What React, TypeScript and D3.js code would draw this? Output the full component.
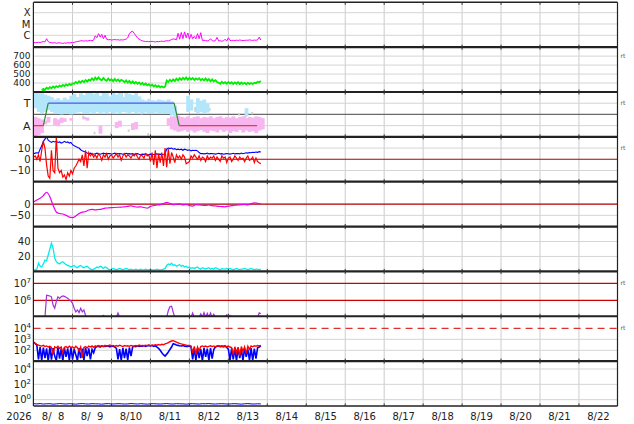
import React from 'react';
import * as d3 from 'd3';

// ---------------- data (hours counted from 2026-08-08 00:00 UTC) ----------------
const T0 = Date.UTC(2026, 7, 8);
const HOUR = 3600e3;
const yearLabel = '2026';
const dayLabels = ['8/\u20078', '8/\u20079', '8/10', '8/11', '8/12', '8/13', '8/14', '8/15', '8/16', '8/17', '8/18', '8/19', '8/20', '8/21', '8/22'];

// X-ray flux, hourly from h0, units of 1e-7 W/m2 (C = 10, M = 100, X = 1000)
const xrayB = [
  2.3, 2.2, 2.3, 2.4, 2.3, 2.5, 2.8, 2.6, 5.0, 2.8,
  2.3, 2.2, 2.1, 2.2, 2.0, 2.1, 2.2, 2.0, 1.9, 2.1,
  2.0, 2.2, 2.1, 2.3, 2.2, 2.4, 2.6, 2.8, 3.0, 3.2,
  3.4, 3.0, 3.3, 3.1, 3.4, 3.6, 3.3, 3.8, 9, 6,
  14, 7, 12, 5, 10, 4.5, 4.0, 4.2, 3.8, 4.0,
  4.3, 3.9, 4.1, 3.7, 4.0, 3.8, 4.2, 4.5, 6, 14,
  20, 23, 15, 9, 6, 4.5, 3.8, 3.2, 3.0, 2.8,
  2.9, 2.7, 2.8, 2.9, 2.7, 2.6, 2.8, 2.7, 2.9, 3.0,
  2.8, 3.1, 3.3, 3.2, 3.6, 4.2, 4.8, 4.5, 4.0, 15,
  4.5, 18, 5, 20, 6, 16, 4.5, 12, 5, 8,
  4.8, 14, 5, 17, 3.5, 3.6, 3.4, 3.2, 3.5, 5,
  3.3, 3.1, 3.4, 6.5, 3.2, 3.3, 3.0, 3.2, 4.5, 3.1,
  6, 3.4, 3.5, 3.6, 3.4, 3.7, 3.5, 3.8, 3.6, 3.4,
  3.5, 3.7, 3.6, 3.9, 3.7, 3.5, 3.8, 3.6, 4.0, 7,
  3.8,
];

// solar wind speed km/s, hourly from h5
const speedStart = 5;
const speed = [
  318, 335, 325, 348, 336, 355, 342, 362, 348, 366,
  354, 372, 360, 378, 366, 384, 372, 390, 378, 396,
  392, 412, 398, 420, 404, 426, 410, 432, 416, 438,
  428, 452, 432, 460, 438, 462, 442, 430, 456, 436,
  424, 450, 428, 442, 420, 446, 424, 440, 418, 436,
  426, 410, 430, 404, 424, 400, 418, 396, 412, 392,
  406, 386, 400, 380, 394, 374, 388, 368, 382, 362,
  376, 356, 370, 352, 364, 350, 360, 428, 412, 436,
  418, 440, 422, 448, 430, 454, 436, 458, 440, 462,
  436, 458, 440, 456, 434, 452, 438, 454, 432, 446,
  428, 450, 426, 444, 420, 440, 418, 432, 412, 404,
  392, 414, 396, 410, 392, 412, 394, 408, 390, 406,
  392, 410, 388, 406, 390, 402, 386, 404, 388, 400,
  390, 404, 398, 414, 406, 424,
];

// IMF sector: angle (deg) bins of 2 h from h0
const sectorHours = [0, 6, 9, 86.6, 89.7, 137.7];
const sectorPhi = [90, 90, 270, 270, 90, 90];
const towardHi = [
  360, 360, 350, 340, 330, 320, 300, 310, 295, 315,
  300, 330, 345, 320, 350, 335, 360, 355, 345, 360,
  330, 360, 350, 325, 360, 340, 355, 320, 360, 345,
  335, 355, 325, 300, 290, 305, 295, 290, 300, 295,
  290, 300, 285, 250, null, null, null, 330, 300, null,
  310, 290, 300, 270, null, null, null, null, null, null,
  null, null, null, null, null, 230, null, null, null, null, null,
];
const towardLo = [
  230, 200, 190, 200, 215, 200, 185, 190, 180, 190,
  185, 180, 190, 195, 200, 185, 190, 195, 185, 200,
  190, 195, 185, 200, 190, 195, 185, 200, 195, 190,
  200, 190, 195, 190, 195, 185, 190, 195, 185, 190,
  185, 190, 175, 150, null, null, null, 200, 210, null,
  190, 200, 185, 195, null, null, null, null, null, null,
  null, null, null, null, null, 165, null, null, null, null, null,
];
const awayHi = [
  160, 150, 140, 130, 160, null, 150, 140, 155, 150,
  null, 150, null, null, null, 160, 155, null, null, null,
  90, null, null, null, null, 120, 130, null, null, null,
  110, 120, null, null, null, null, null, null, null, null,
  null, 150, 165, 160, 170, 160, 155, 165, 150, 160,
  165, 150, 160, 155, 165, 150, 160, 165, 150, 160,
  155, 165, 150, 160, 165, 150, 160, 155, 165, 160, 150,
];
const awayLo = [
  5, 15, 30, 100, 115, null, 95, 85, 110, 120,
  null, 130, null, null, null, 140, 130, null, null, null,
  25, null, null, null, null, 70, 80, null, null, null,
  55, 60, null, null, null, null, null, null, null, null,
  null, 90, 60, 50, 40, 45, 55, 40, 50, 35,
  45, 55, 40, 30, 50, 45, 35, 55, 40, 50,
  30, 45, 40, 55, 35, 50, 40, 45, 30, 50, 60,
];
// sparse grey samples: [hour, lowDeg, highDeg]
const greyPts: [number, number, number][] = [
  [1, 280, 340], [3, 250, 330], [5, 300, 360], [24, 200, 230], [30, 150, 170], [34, 230, 300],
  [37, 20, 40], [40, 200, 260], [44, 250, 320], [47, 15, 35], [50, 220, 280], [54, 300, 350],
  [58, 40, 60], [62, 230, 290], [66, 180, 210], [70, 10, 30], [78, 190, 220], [84, 170, 200],
  [95, 230, 280], [99, 200, 240], [103, 240, 270], [108, 210, 230], [126, 170, 190], [130, 150, 175],
  [134, 180, 200],
];

// IMF Bt and Bz (nT), hourly from h0
const bt = [
  5, 5.5, 5.8, 5.5, 9, 12, 16, 18, 20, 17,
  16, 15, 16, 15.5, 16, 15, 15.5, 14.5, 15, 16,
  15, 15.5, 14.5, 15, 13, 12, 11.5, 10.5, 10, 8.5,
  7.5, 7, 6.5, 5.5, 5, 5.5, 5, 4.5, 5, 5.5,
  5, 4.5, 5, 5.5, 5, 4.8, 5, 5.2, 4.5, 5,
  5.5, 5, 4.8, 5.2, 5, 4.5, 5, 5.3, 4.8, 5,
  4.6, 5, 4.4, 4.8, 5, 4.5, 4.2, 4.6, 4.4, 4.8,
  4.5, 4.3, 4.6, 4.4, 4.2, 4.5, 4.8, 4.4, 4.6, 4.3,
  4.5, 5, 9, 10, 9.5, 10, 9, 9.5, 8.5, 9,
  8.5, 9, 8, 9, 8.5, 8, 8.5, 7.5, 8, 7.8,
  8, 7.5, 6, 5, 5.2, 4.8, 5, 5.5, 4.8, 5,
  5.2, 5, 4.6, 5, 5.3, 4.8, 5, 4.5, 4.8, 5.2,
  5, 4.6, 5, 5.4, 4.8, 5, 5.2, 4.8, 5.5, 5,
  5.4, 5.8, 5.5, 6, 5.8, 6.2, 6, 6.5, 6.2, 6.8,
  6.5,
];
const bz = [
  2, 3, 0, 4, -2, 8, 16, 10, -5, -15,
  -17, 8, -10, -12, 20, -8, -12, -10, -16, -14,
  -18, -12, -15, -10, -13, -8, -6, -3, 0, -2,
  4, -6, 8, -8, 6, 3, 5, 2, 4, 1,
  5, 3, -1, 4, 2, 5, 0, 3, 4, 1,
  3, 5, 2, 4, -1, 3, 5, 2, 4, 3,
  1, 4, 3, 5, 2, 0, 4, 3, 1, 5,
  3, 4, -2, 6, -5, 8, -8, 5, -3, 6,
  -6, 10, -7, 9, -4, 6, 2, -3, 4, 1,
  3, 0, 4, 2, -4, -3, -2, 3, 1, 4,
  2, 0, 3, -1, 2, 1, -2, 3, 0, 2,
  1, 3, -1, 2, 0, -2, 3, 1, 2, -3,
  1, 2, -2, 0, 3, 1, -1, 2, 0, 1,
  -2, 1, 3, -1, 0, 2, -3, 1, -2, -3,
  -4,
];

// Dst (nT), 2-hourly from h0
const dst = [
  10, 18, 26, 38, 53, 33, -5, -35, -42, -44,
  -50, -58, -60, -53, -42, -36, -33, -26, -23, -26,
  -24, -22, -18, -17, -16, -15, -14, -13, -12, -10,
  -8, -11, -13, -12, -15, -18, -10, -6, -4, -2,
  2, 8, 3, -2, 0, 1, -4, -1, -7, -9,
  -2, -4, -5, -6, -4, -7, -8, -10, -11, -12,
  -9, -7, -5, -4, -2, -1, -3, 2, 6, 3,
  1,
];

// cyan index, hourly from h0
const cyanIdx = [
  2, 2, 3, 11, 7, 6, 10, 15, 14, 22,
  30, 38, 31, 18, 13, 11, 10, 12, 13, 11,
  9, 8, 7, 6, 7, 8, 6, 5, 7, 8,
  6, 5, 6, 7, 5, 3, 2, 3, 4, 6,
  5, 7, 6, 4, 6, 5, 3, 2, 3, 4,
  3, 2, 3, 4, 3, 2, 3, 4, 3, 2,
  3, 2, 2, 3, 2, 2, 3, 2, 2, 3,
  2, 2, 3, 2, 2, 2, 3, 2, 2, 2,
  3, 4, 8, 10, 9, 11, 8, 9, 7, 8,
  9, 7, 8, 6, 7, 5, 6, 4, 5, 4,
  5, 6, 4, 3, 5, 4, 3, 4, 5, 3,
  4, 3, 5, 4, 3, 2, 4, 3, 3, 4,
  3, 4, 3, 2, 3, 4, 3, 2, 3, 3,
  4, 3, 2, 3, 4, 3, 2, 3, 3, 2,
  3,
];

// electron flux, hourly from h0 (F = below the plotted range)
const F = 1e5;
const electron = [
  F, F, F, F, F, F, F, F, 2.0e6, 1.9e6,
  1.8e6, 1.6e6, 5.2e5, 3.4e5, 8.3e5, 1.6e6, 1.3e6, 1.6e6, 1.8e6, 1.7e6,
  1.5e6, 1.3e6, 1.1e6, 9e5, 6.6e5, 3.4e5, 2.1e5, 2.7e5, 1.9e5, 3.4e5,
  2.1e5, 2.7e5, 1.3e5, F, F, F, F, F, F, F,
  F, F, F, 1.3e5, F, F, F, F, F, F,
  F, F, 1.8e5, F, F, F, F, F, F, F,
  F, F, F, F, F, F, F, F, F, F,
  F, F, F, F, F, F, F, F, F, F,
  F, F, F, 2.5e5, 4.2e5, 4.5e5, 2e5, F, F, F,
  F, F, F, F, F, F, F, F, 1.8e5, F,
  F, F, F, 1.6e5, F, 1.9e5, F, 1.7e5, F, 1.8e5,
  F, 1.5e5, F, F, F, F, F, F, F, 1.4e5,
  F, 1.3e5, F, F, F, F, F, F, F, F,
  F, F, F, F, F, F, F, F, F, 1.8e5,
  1.6e5,
];

// proton fluxes, hourly from h0
const protonRed = [
  500, 420, 350, 300, 260, 240, 280, 220, 250, 200,
  230, 180, 40, 210, 170, 230, 150, 200, 60, 190,
  220, 160, 240, 180, 210, 150, 230, 170, 90, 200,
  20, 180, 220, 160, 240, 200, 250, 190, 260, 220,
  270, 230, 250, 210, 280, 240, 260, 300, 250, 280,
  230, 270, 240, 290, 250, 220, 270, 240, 260, 230,
  280, 250, 230, 270, 240, 300, 260, 280, 250, 290,
  270, 300, 260, 310, 280, 320, 290, 330, 300, 350,
  320, 380, 420, 500, 600, 700, 750, 650, 550, 480,
  420, 380, 350, 320, 300, 270, 280, 250, 60, 230,
  40, 200, 90, 220, 250, 210, 240, 200, 230, 260,
  220, 250, 210, 240, 260, 220, 250, 200, 230, 210,
  240, 200, 180, 40, 210, 60, 190, 30, 220, 80,
  200, 50, 230, 120, 250, 210, 260, 230, 270, 250,
  280,
];
const protonBlue = [
  550, 400, 300, 15, 200, 12, 180, 20, 150, 10,
  200, 14, 160, 30, 12, 180, 18, 140, 11, 170,
  25, 150, 12, 190, 15, 130, 40, 12, 160, 20,
  140, 12, 170, 30, 150, 15, 120, 60, 180, 220,
  240, 200, 250, 230, 220, 260, 240, 210, 250, 230,
  200, 150, 15, 130, 12, 170, 20, 140, 13, 180,
  30, 200, 240, 220, 260, 230, 250, 240, 270, 230,
  260, 280, 250, 270, 230, 260, 200, 150, 100, 60,
  40, 30, 45, 70, 120, 200, 400, 350, 300, 280,
  260, 250, 270, 240, 230, 220, 250, 200, 15, 160,
  12, 150, 20, 130, 11, 170, 25, 140, 12, 160,
  18, 120, 200, 230, 250, 220, 240, 230, 250, 180,
  130, 12, 150, 15, 140, 11, 170, 20, 130, 12,
  150, 25, 120, 13, 160, 12, 140, 18, 170, 200,
  260,
];

// bottom panel flux, 2-hourly from h0
const lowFlux = [
  0.30, 0.28, 0.31, 0.27, 0.29, 0.30, 0.26, 0.28, 0.31, 0.29,
  0.27, 0.30, 0.28, 0.26, 0.29, 0.31, 0.28, 0.27, 0.30, 0.29,
  0.28, 0.26, 0.29, 0.31, 0.27, 0.28, 0.30, 0.29, 0.27, 0.28,
  0.31, 0.29, 0.27, 0.30, 0.28, 0.26, 0.29, 0.30, 0.28, 0.27,
  0.29, 0.31, 0.28, 0.27, 0.30, 0.29, 0.28, 0.26, 0.29, 0.30,
  0.28, 0.27, 0.30, 0.29, 0.31, 0.28, 0.27, 0.29, 0.30, 0.28,
  0.27, 0.29, 0.30, 0.28, 0.26, 0.29, 0.31, 0.28, 0.27, 0.29,
  0.28,
];

// axis tick definitions
const xmcTicks = [10, 100, 1000];
const xmcLabels = ['C', 'M', 'X'];
const speedTicks = [400, 500, 600, 700];
const sectorTicks = [90, 270];
const sectorLabels = ['A', 'T'];
const bTicks = [-10, 0, 10];
const dstTicks = [-50, 0];
const cyanTicks = [20, 40];
const eTicks = [1e6, 1e7];
const pTicks = [1e2, 1e3, 1e4];
const lowTicks = [1, 1e2, 1e4];

// ---------------- layout ----------------
const W = 634, H = 424;
const XL = 33.6, XR = 617.5;
const TOP = 2.3, PH = 44.85;
const FONT = 'DejaVu Sans';
const pTop = (i: number) => TOP + i * PH;
const pBot = (i: number) => TOP + (i + 1) * PH;
const fmt = (v: number) => (v < 0 ? '\u2212' + Math.abs(v) : String(v));

export default function App() {
  const x = d3.scaleUtc().domain([new Date(T0), new Date(T0 + 15 * 24 * HOUR)]).range([33.6, 617.9]);
  const xt = (h: number) => x(new Date(T0 + h * HOUR));

  const y = [
    d3.scaleLog().domain([10 ** -0.05, 10 ** 3.92]).range([pBot(0), pTop(0)]),
    d3.scaleLinear().domain([300, 800]).range([pBot(1), pTop(1)]),
    d3.scaleLinear().domain([0, 360]).range([pBot(2), pTop(2)]),
    d3.scaleLinear().domain([-20, 20]).range([pBot(3), pTop(3)]),
    d3.scaleLinear().domain([-100, 100]).range([pBot(4), pTop(4)]),
    d3.scaleLinear().domain([0, 60]).range([pBot(5), pTop(5)]),
    d3.scaleLog().domain([10 ** 5.062, 10 ** 7.7]).range([pBot(6), pTop(6)]),
    d3.scaleLog().domain([10 ** 1.02, 10 ** 5.095]).range([pBot(7), pTop(7)]),
    d3.scaleLog().domain([10 ** -0.82, 10 ** 5.03]).range([pBot(8), pTop(8)]),
  ];

  const path = (vals: (number | null)[], start: number, step: number, sc: any, curve: any = d3.curveLinear) =>
    d3.line<number | null>()
      .defined((v) => v != null)
      .x((_, i) => xt(start + i * step))
      .y((v) => sc(v as number))
      .curve(curve)(vals) || '';

  const days = d3.range(1, 15);
  const grid = (sc: any, v: number, key: string, stroke = '#d4d4d4', dash?: string, w = 1) => (
    <line key={key} x1={XL} x2={XR} y1={sc(v)} y2={sc(v)} stroke={stroke} strokeWidth={w} strokeDasharray={dash} />
  );
  const label = (sc: any, v: number, text: string, key: string, size = 10) => (
    <text key={key} x={30.5} y={sc(v) + size * 0.36} textAnchor="end" fontSize={size} fill="#222">{text}</text>
  );
  const supLabel = (sc: any, v: number, key: string) => (
    <text key={key} x={31} y={sc(v) + 3.8} textAnchor="end" fontSize={10} fill="#222">
      10<tspan dy={-4.5} fontSize={7}>{Math.round(Math.log10(v))}</tspan>
    </text>
  );

  const sy = y[2];
  const binW = xt(2) - xt(0) + 0.6;
  const sectorSegs = sectorHours.slice(1).map((h, i) => {
    const a = sectorPhi[i], b = sectorPhi[i + 1];
    const col = a === b ? (a > 180 ? '#5252ee' : '#ee3a3a') : '#2f8a2f';
    return <line key={'sec' + i} x1={xt(sectorHours[i])} x2={xt(h)} y1={sy(a)} y2={sy(b)} stroke={col} strokeWidth={1.2} />;
  });

  const rtMarks = [y[1](700), y[2](270), y[3](10), y[6](1e7), y[7](1e4)];

  return (
    <svg width={W} height={H} style={{ position: 'absolute', left: 0, top: 0, background: '#fff' }} fontFamily={FONT}>
      <defs>
        {d3.range(9).map((i) => (
          <clipPath id={'clip' + i} key={'c' + i}>
            <rect x={XL} y={pTop(i)} width={XR - XL} height={PH} />
          </clipPath>
        ))}
      </defs>
      <rect x={0} y={0} width={W} height={H} fill="#fff" />

      {/* vertical day grid */}
      {days.map((k) => (
        <line key={'vg' + k} x1={xt(24 * k)} x2={xt(24 * k)} y1={TOP} y2={pBot(8)} stroke="#cccccc" strokeWidth={1} />
      ))}

      {/* horizontal grids */}
      {xmcTicks.map((v, i) => grid(y[0], v, 'g0' + i))}
      {speedTicks.map((v, i) => grid(y[1], v, 'g1' + i))}
      {sectorTicks.map((v, i) => grid(y[2], v, 'g2' + i))}
      {grid(y[2], 180, 'g2m', '#6a6a6a', undefined, 1.2)}
      {bTicks.filter((v) => v !== 0).map((v, i) => grid(y[3], v, 'g3' + i))}
      {dstTicks.filter((v) => v !== 0).map((v, i) => grid(y[4], v, 'g4' + i))}
      {cyanTicks.map((v, i) => grid(y[5], v, 'g5' + i))}
      {pTicks.filter((v) => v !== 1e4).map((v, i) => grid(y[7], v, 'g7' + i))}
      {lowTicks.map((v, i) => grid(y[8], v, 'g8' + i))}

      {/* panel 1: X-ray */}
      <g clipPath="url(#clip0)">
        <path d={path(xrayB, 0, 1, y[0])} fill="none" stroke="#ff00ff" strokeWidth={1} />
      </g>

      {/* panel 2: speed */}
      <g clipPath="url(#clip1)">
        <path d={path(speed, speedStart, 1, y[1])} fill="none" stroke="#00ee00" strokeWidth={1.8} />
      </g>

      {/* panel 3: sector */}
      <g clipPath="url(#clip2)">
        {greyPts.map(([h, lo, hi], i) => (
          <rect key={'gp' + i} x={xt(h)} y={sy(hi)} width={1.8} height={sy(lo) - sy(hi)} fill="#cfcfcf" />
        ))}
        {towardHi.map((hi, i) =>
          hi == null || towardLo[i] == null ? null : (
            <rect key={'tw' + i} x={xt(2 * i)} y={sy(hi)} width={binW} height={sy(towardLo[i] as number) - sy(hi)} fill="#b2e6fb" />
          )
        )}
        {awayHi.map((hi, i) =>
          hi == null || awayLo[i] == null ? null : (
            <rect key={'aw' + i} x={xt(2 * i)} y={sy(hi)} width={binW} height={sy(awayLo[i] as number) - sy(hi)} fill="#f8b6f0" />
          )
        )}
        {sectorSegs}
      </g>

      {/* panel 4: Bt / Bz */}
      {grid(y[3], 0, 'z3', '#aa0000', undefined, 1.1)}
      <g clipPath="url(#clip3)">
        <path d={path(bt, 0, 1, y[3])} fill="none" stroke="#0000ff" strokeWidth={1.1} />
        <path d={path(bz, 0, 1, y[3])} fill="none" stroke="#ff0000" strokeWidth={1.2} />
      </g>

      {/* panel 5: Dst */}
      {grid(y[4], 0, 'z4', '#aa0000', undefined, 1.1)}
      <g clipPath="url(#clip4)">
        <path d={path(dst, 0, 2, y[4], d3.curveMonotoneX)} fill="none" stroke="#ee00ee" strokeWidth={1.2} />
      </g>

      {/* panel 6 */}
      <g clipPath="url(#clip5)">
        <path d={path(cyanIdx, 0, 1, y[5])} fill="none" stroke="#00eeee" strokeWidth={1.3} />
      </g>

      {/* panel 7: electrons */}
      {eTicks.map((v, i) => grid(y[6], v, 'e' + i, '#cc0000', undefined, 1.2))}
      <g clipPath="url(#clip6)">
        <path d={path(electron, 0, 1, y[6])} fill="none" stroke="#a030d8" strokeWidth={1.2} />
      </g>

      {/* panel 8: protons */}
      {grid(y[7], 1e4, 'pd', '#dd3030', '7,5', 1.3)}
      <g clipPath="url(#clip7)">
        <path d={path(protonBlue, 0, 1, y[7])} fill="none" stroke="#0000ff" strokeWidth={1.6} />
        <path d={path(protonRed, 0, 1, y[7])} fill="none" stroke="#ff0000" strokeWidth={1.4} />
      </g>

      {/* panel 9 */}
      <g clipPath="url(#clip8)">
        <path d={path(lowFlux, 0, 2, y[8])} fill="none" stroke="#0000ff" strokeWidth={1} />
      </g>

      {/* separators and borders */}
      {d3.range(10).map((i) => (
        <line key={'sep' + i} x1={XL} x2={XR} y1={pTop(i)} y2={pTop(i)} stroke="#222" strokeWidth={i === 0 || i === 9 ? 1.5 : 2.2} />
      ))}
      {d3.range(10).map((i) =>
        days.map((k) => (
          <line key={'tk' + i + '-' + k} x1={xt(24 * k)} x2={xt(24 * k)} y1={pTop(i) - (i === 0 ? 0 : 2.5)} y2={pTop(i) + (i === 9 ? 0 : 2.5)} stroke="#333" strokeWidth={1} />
        ))
      )}
      <line x1={33.4} x2={33.4} y1={TOP} y2={pBot(8)} stroke="#222" strokeWidth={1.2} />
      <line x1={XR} x2={XR} y1={TOP} y2={pBot(8)} stroke="#222" strokeWidth={1.2} />

      {/* y labels */}
      {xmcTicks.map((v, i) => label(y[0], v, xmcLabels[i], 'l0' + i, 10))}
      {speedTicks.map((v, i) => label(y[1], v, String(v), 'l1' + i, 9))}
      {sectorTicks.map((v, i) => label(y[2], v, sectorLabels[i], 'l2' + i, 11))}
      {bTicks.map((v, i) => label(y[3], v, fmt(v), 'l3' + i))}
      {dstTicks.map((v, i) => label(y[4], v, fmt(v), 'l4' + i))}
      {cyanTicks.map((v, i) => label(y[5], v, String(v), 'l5' + i))}
      {eTicks.map((v, i) => supLabel(y[6], v, 'l6' + i))}
      {pTicks.map((v, i) => supLabel(y[7], v, 'l7' + i))}
      {lowTicks.map((v, i) => supLabel(y[8], v, 'l8' + i))}

      {rtMarks.map((yy, i) => (
        <text key={'rt' + i} x={620.5} y={yy + 2} fontSize={6} fill="#555">rt</text>
      ))}

      {/* x labels */}
      <text x={19} y={420} textAnchor="middle" fontSize={10} fill="#222">{yearLabel}</text>
      {dayLabels.map((s, k) => (
        <text key={'dl' + k} x={xt(24 * k + 12)} y={420} textAnchor="middle" fontSize={10} fill="#222">{s}</text>
      ))}
    </svg>
  );
}
